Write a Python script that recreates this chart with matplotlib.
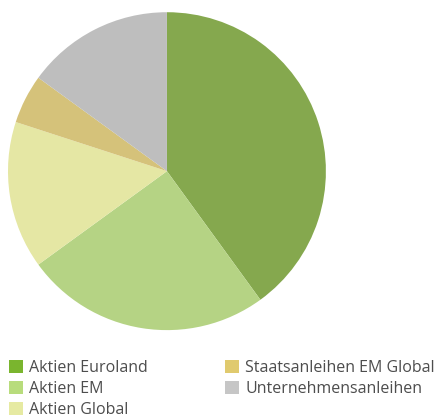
import matplotlib.pyplot as plt
from matplotlib.patches import Patch

labels = ['Aktien Euroland', 'Aktien EM', 'Aktien Global',
          'Staatsanleihen EM Global', 'Unternehmensanleihen']
shares = [40, 25, 15, 5, 15]
pie_colors = ['#85a84e', '#b5d384', '#e5e7a4', '#d5c27a', '#bebebe']
legend_colors = ['#7ab52e', '#b8dc7c', '#e6eaa2', '#e0ca6e', '#c6c6c6']

plt.rcParams['font.family'] = ['Open Sans', 'DejaVu Sans']

fig = plt.figure(figsize=(4.44, 4.19), dpi=100)
ax = fig.add_axes([0.018, 0.212, 0.716, 0.759])
ax.pie(shares, colors=pie_colors, startangle=90, counterclock=False,
       radius=1, wedgeprops={'linewidth': 0})
ax.set_xlim(-1, 1)
ax.set_ylim(-1, 1)
ax.set_aspect('equal')
ax.axis('off')

handles = [Patch(facecolor=c, edgecolor='none') for c in legend_colors]
fig.legend(handles, labels, ncol=2, loc='upper left',
           bbox_to_anchor=(0.006, 0.156), frameon=False, fontsize=11.5,
           handlelength=0.85, handleheight=0.9, handletextpad=0.4,
           columnspacing=4.85, labelspacing=0.3, borderaxespad=0,
           labelcolor='#4d4d4d')

fig.savefig('out.png', dpi=100)
